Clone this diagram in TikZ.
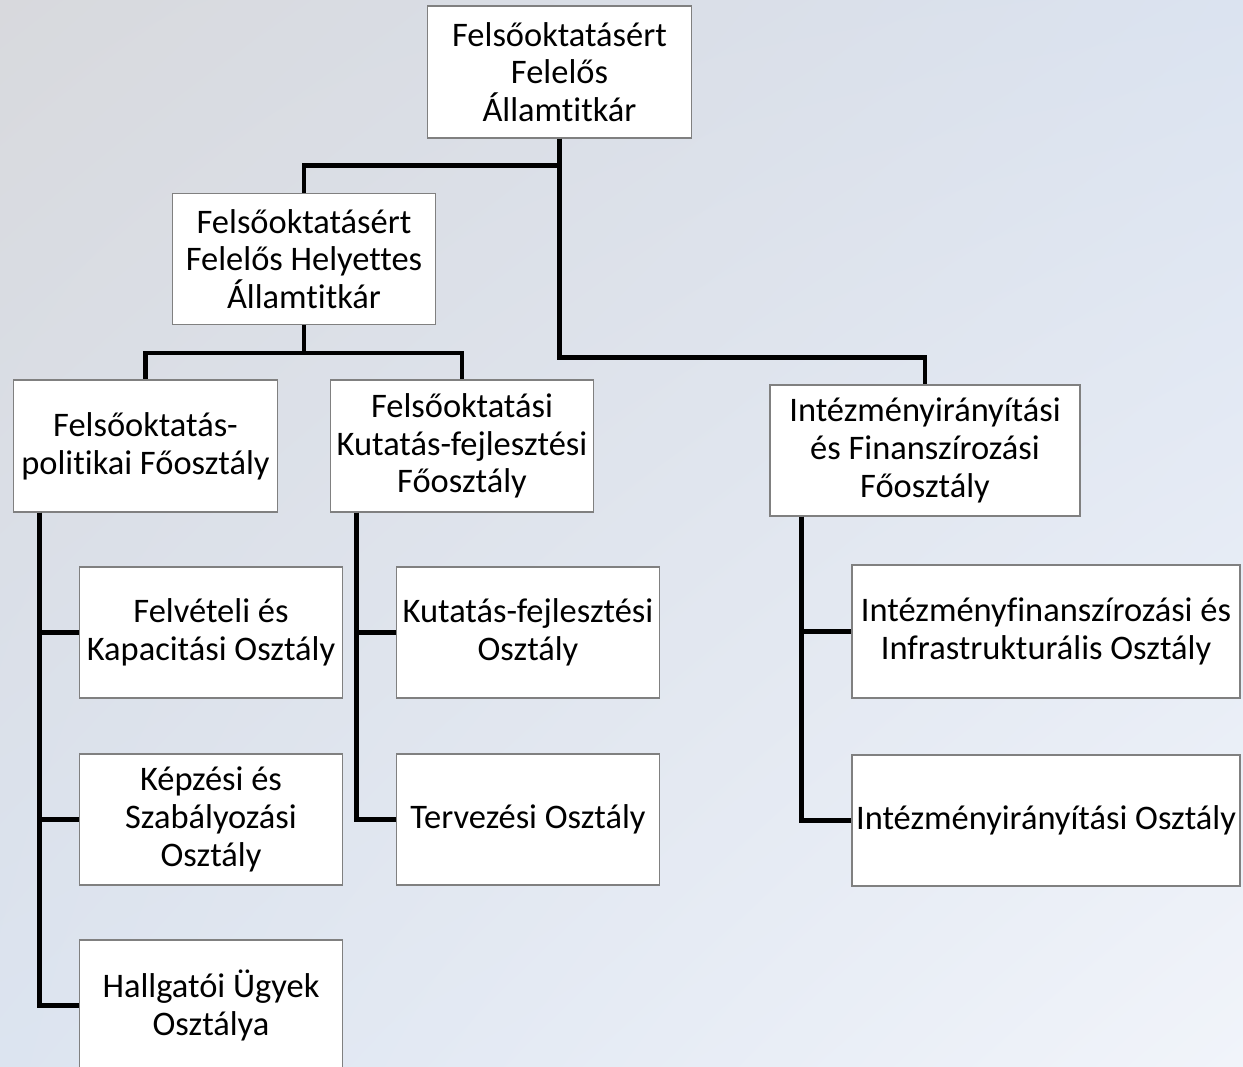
\documentclass[tikz,border=0pt]{standalone}
\usepackage{fontspec}
\setmainfont{Carlito}[Ligatures=NoCommon]
\usetikzlibrary{positioning,shadings}

\definecolor{bgtl}{RGB}{216,217,221}
\definecolor{bgtr}{RGB}{219,227,240}
\definecolor{bgbl}{RGB}{220,228,240}
\definecolor{bgbr}{RGB}{241,244,250}
\definecolor{boxline}{RGB}{128,128,128}

\tikzset{
  unit/.style={
    draw=boxline,
    fill=white,
    line width=0.6pt,
    inner xsep=0pt,
    align=center,
    font=\fontsize{19.6}{21.4}\selectfont,
    minimum width=5.27cm,
    minimum height=2.62cm
  },
  wide/.style={
    unit,
    minimum width=7.76cm
  },
  link/.style={
    line width=2.6pt
  }
}

\begin{document}
\begin{tikzpicture}
  \shade[upper left=bgtl, upper right=bgtr, lower left=bgbl, lower right=bgbr]
    (0,0) rectangle (24.86,-21.32);
  \useasboundingbox (0,0) rectangle (24.86,-21.32);

  \node[unit, minimum height=2.64cm] (top) at (11.19,-1.44)
    {Felsőoktatásért\\Felelős\\Államtitkár};
  \node[unit] (dep) at (6.08,-5.18)
    {Felsőoktatásért\\Felelős Helyettes\\Államtitkár};

  \node[unit, minimum height=2.64cm] (fop) at (2.91,-8.92)
    {Felsőoktatás-\\politikai Főosztály};
  \node[unit, minimum height=2.64cm] (fkf) at (9.24,-8.92)
    {Felsőoktatási\\Kutatás-fejlesztési\\Főosztály};
  \node[unit, minimum width=6.2cm] (inst) at (18.5,-9.01)
    {Intézményirányítási\\és Finanszírozási\\Főosztály};

  \node[unit] (felv) at (4.22,-12.65) {Felvételi és\\Kapacitási Osztály};
  \node[unit] (kepz) at (4.22,-16.39) {Képzési és\\Szabályozási\\Osztály};
  \node[unit] (hallg) at (4.22,-20.11) {Hallgatói Ügyek\\Osztálya};

  \node[unit] (kfo) at (10.56,-12.65) {Kutatás-fejlesztési\\Osztály};
  \node[unit] (terv) at (10.56,-16.39) {Tervezési Osztály};

  \node[wide, minimum height=2.66cm] (infra) at (20.92,-12.63)
    {Intézményfinanszírozási és\\Infrastrukturális Osztály};
  \node[wide] (iro) at (20.92,-16.41) {Intézményirányítási Osztály};

  % upper levels
  \draw[link] (top.south) -- ++(0,-0.54) -| (dep.north);
  \draw[link] (top.south) -- ++(0,-4.38) -| (inst.north);
  \draw[link] (dep.south) -- ++(0,-0.56) -| (fop.north);
  \draw[link] (dep.south) -- ++(0,-0.56) -| (fkf.north);

  % departments
  \foreach \b in {felv,kepz,hallg}
    \draw[link] ([xshift=0.52cm]fop.south west) |- (\b.west);
  \foreach \b in {kfo,terv}
    \draw[link] ([xshift=0.54cm]fkf.south west) |- (\b.west);
  \foreach \b in {infra,iro}
    \draw[link] ([xshift=0.64cm]inst.south west) |- (\b.west);
\end{tikzpicture}
\end{document}
